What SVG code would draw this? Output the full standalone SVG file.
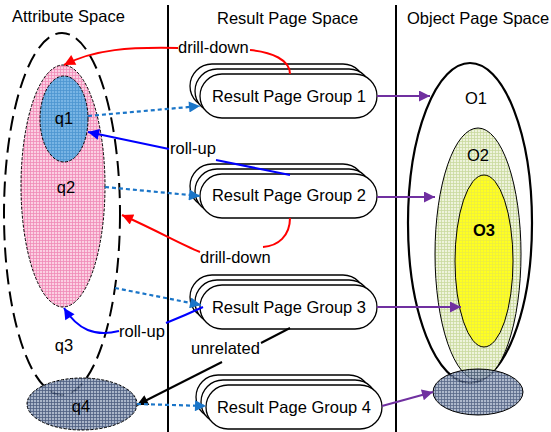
<svg xmlns="http://www.w3.org/2000/svg" width="551" height="432" viewBox="0 0 551 432">
<style>
text{font-family:"Liberation Sans",Arial,sans-serif;font-size:16.5px;fill:#000}
.box{fill:#fff;stroke:#000;stroke-width:1.3}
.red{fill:none;stroke:#f00;stroke-width:2}
.blue{fill:none;stroke:#00f;stroke-width:2}
.dot{fill:none;stroke:#1a75c8;stroke-width:2.2;stroke-dasharray:4,3}
.pur{fill:none;stroke:#7030a0;stroke-width:2}
.blk{fill:none;stroke:#000;stroke-width:2}
</style>
<defs>
<pattern id="pPink" width="3" height="3" patternUnits="userSpaceOnUse"><rect width="3" height="3" fill="#fbd0e2"/><path d="M0 0.5H3M0.5 0V3" stroke="#f08cb8" stroke-width="0.8"/></pattern>
<pattern id="pBlue" width="3" height="3" patternUnits="userSpaceOnUse"><rect width="3" height="3" fill="#78b4e4"/><path d="M0 0.5H3M0.5 0V3" stroke="#4c94d0" stroke-width="0.8"/></pattern>
<pattern id="pNavy" width="3" height="3" patternUnits="userSpaceOnUse"><rect width="3" height="3" fill="#9aa8bf"/><path d="M0 0.5H3M0.5 0V3" stroke="#2f4169" stroke-width="0.8"/></pattern>
<pattern id="pGreen" width="3" height="3" patternUnits="userSpaceOnUse"><rect width="3" height="3" fill="#eef3dc"/><path d="M0 0.5H3M0.5 0V3" stroke="#c9d99e" stroke-width="0.8"/></pattern>
<pattern id="pYellow" width="3" height="3" patternUnits="userSpaceOnUse"><rect width="3" height="3" fill="#ffff20"/><path d="M0 0.5H3M0.5 0V3" stroke="#eeee40" stroke-width="0.8"/></pattern>
<marker id="aRed" viewBox="0 0 10 10" refX="10" refY="5" markerWidth="15" markerHeight="11" markerUnits="userSpaceOnUse" orient="auto"><path d="M0 0L10 5L0 10z" fill="#f00"/></marker>
<marker id="aBlue" viewBox="0 0 10 10" refX="10" refY="5" markerWidth="15" markerHeight="11" markerUnits="userSpaceOnUse" orient="auto"><path d="M0 0L10 5L0 10z" fill="#00f"/></marker>
<marker id="aDot" viewBox="0 0 10 10" refX="10" refY="5" markerWidth="15" markerHeight="11" markerUnits="userSpaceOnUse" orient="auto"><path d="M0 0L10 5L0 10z" fill="#1a75c8"/></marker>
<marker id="aPur" viewBox="0 0 10 10" refX="10" refY="5" markerWidth="15" markerHeight="11" markerUnits="userSpaceOnUse" orient="auto"><path d="M0 0L10 5L0 10z" fill="#7030a0"/></marker>
<marker id="aBlk" viewBox="0 0 10 10" refX="10" refY="5" markerWidth="15" markerHeight="11" markerUnits="userSpaceOnUse" orient="auto"><path d="M0 0L10 5L0 10z" fill="#000"/></marker>
</defs>
<rect width="551" height="432" fill="#fff"/>
<g id="dividers">
<line x1="168" y1="5" x2="168" y2="432" stroke="#000" stroke-width="2"/>
<line x1="396" y1="5" x2="396" y2="432" stroke="#000" stroke-width="2"/>
</g>
<g id="titles">
<text x="12" y="22">Attribute Space</text>
<text x="217" y="24">Result Page Space</text>
<text x="407" y="24">Object Page Space</text>
</g>
<g id="q2"><ellipse cx="63" cy="186" rx="42" ry="121" fill="url(#pPink)" stroke="#000" stroke-width="1" stroke-dasharray="3,1.5"/><text x="66" y="193" text-anchor="middle">q2</text></g>
<g id="q1"><ellipse cx="64" cy="119" rx="24" ry="43" fill="url(#pBlue)" stroke="#000" stroke-width="1" stroke-dasharray="3,1.5"/><text x="64" y="124" text-anchor="middle">q1</text></g>
<g id="q3"><ellipse cx="62" cy="214" rx="58" ry="181" fill="none" stroke="#000" stroke-width="2" stroke-dasharray="15,7"/><text x="64" y="351" text-anchor="middle">q3</text></g>
<g id="q4"><ellipse cx="82" cy="404" rx="55" ry="26" fill="url(#pNavy)" fill-opacity="0.85" stroke="#000" stroke-width="1" stroke-dasharray="3,1.5"/><text x="81" y="412" text-anchor="middle">q4</text></g>
<g id="group1"><rect class="box" x="190" y="64" width="175" height="44" rx="22"/><rect class="box" x="195" y="69" width="176" height="44" rx="22"/><rect class="box" x="200" y="74" width="177" height="44" rx="22"/><text x="289" y="102" text-anchor="middle">Result Page Group 1</text></g>
<g id="group2"><rect class="box" x="190" y="164" width="175" height="44" rx="22"/><rect class="box" x="195" y="169" width="176" height="44" rx="22"/><rect class="box" x="200" y="174" width="177" height="44" rx="22"/><text x="289" y="201" text-anchor="middle">Result Page Group 2</text></g>
<g id="group3"><rect class="box" x="190" y="275" width="175" height="44" rx="22"/><rect class="box" x="195" y="280" width="176" height="44" rx="22"/><rect class="box" x="200" y="285" width="177" height="44" rx="22"/><text x="289" y="313" text-anchor="middle">Result Page Group 3</text></g>
<g id="group4"><rect class="box" x="196" y="375" width="175" height="44" rx="22"/><rect class="box" x="201" y="380" width="176" height="44" rx="22"/><rect class="box" x="206" y="385" width="176" height="44" rx="22"/><text x="294" y="413" text-anchor="middle">Result Page Group 4</text></g>
<g id="O1"><ellipse cx="470" cy="223" rx="62" ry="160" fill="#fff" stroke="#000" stroke-width="2.2"/><text x="476" y="104" text-anchor="middle">O1</text></g>
<g id="O2"><ellipse cx="478" cy="254" rx="43" ry="126" fill="url(#pGreen)" stroke="#000" stroke-width="1"/><text x="478" y="161" text-anchor="middle">O2</text></g>
<g id="O3"><ellipse cx="484" cy="261" rx="29" ry="86" fill="url(#pYellow)" stroke="#000" stroke-width="1"/><text x="484" y="236" text-anchor="middle" font-weight="bold">O3</text></g>
<g id="O4"><ellipse cx="478" cy="392" rx="45" ry="23" fill="url(#pNavy)" fill-opacity="0.8" stroke="#000" stroke-width="1"/></g>
<g id="connectors">
<path class="red" d="M290 74C290 60 272 52 250 50"/>
<path class="red" d="M178 48C130 47 95 49 64 65" marker-end="url(#aRed)"/>
<path class="red" d="M290 218C290 236 278 246 263 247"/>
<path class="red" d="M200 252C180 244 160 232 122 215" marker-end="url(#aRed)"/>
<path class="blue" d="M290 175L216 160"/>
<path class="blue" d="M169 149L88 132" marker-end="url(#aBlue)"/>
<path class="blue" d="M203 307C188 314 176 319 166 323"/>
<path class="blue" d="M119 331C95 337 78 330 64 308" marker-end="url(#aBlue)"/>
<path class="blk" d="M290 328L261 343"/>
<path class="blk" d="M222 362L137 405" marker-end="url(#aBlk)"/>
<path class="dot" d="M88 116L200 106" marker-end="url(#aDot)"/>
<path class="dot" d="M105 187L200 196" marker-end="url(#aDot)"/>
<path class="dot" d="M115 288L201 305" marker-end="url(#aDot)"/>
<path class="dot" d="M137 404L206 406" marker-end="url(#aDot)"/>
<path class="pur" d="M377 96L430 96" marker-end="url(#aPur)"/>
<path class="pur" d="M377 197L435 197" marker-end="url(#aPur)"/>
<path class="pur" d="M377 307L461 307" marker-end="url(#aPur)"/>
<path class="pur" d="M382 406L433 392" marker-end="url(#aPur)"/>
</g>
<g id="labels">
<text x="178" y="53">drill-down</text>
<text x="170" y="154">roll-up</text>
<text x="200" y="263">drill-down</text>
<text x="119" y="337">roll-up</text>
<text x="191" y="354">unrelated</text>
</g>
</svg>
